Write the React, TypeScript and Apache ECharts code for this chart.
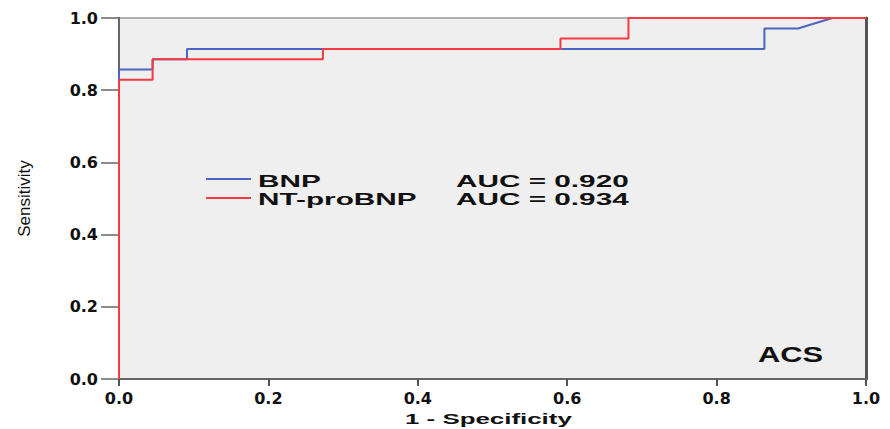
import React, { useEffect, useRef } from "react";
import * as echarts from "echarts";

// ROC coordinates (1 - specificity, sensitivity)
const bnpFpr = [0, 0, 0.045, 0.045, 0.091, 0.091, 0.864, 0.864, 0.909, 0.955, 1.0];
const bnpTpr = [0, 0.857, 0.857, 0.886, 0.886, 0.914, 0.914, 0.971, 0.971, 1.0, 1.0];
const ntFpr = [0, 0, 0.045, 0.045, 0.273, 0.273, 0.591, 0.591, 0.682, 0.682, 1.0];
const ntTpr = [0, 0.829, 0.829, 0.886, 0.886, 0.914, 0.914, 0.943, 0.943, 1.0, 1.0];

const seriesNames = ["BNP", "NT-proBNP"];
const aucLabels = ["AUC = 0.920", "AUC = 0.934"];
const panelLabel = "ACS";
const xTitle = "1 - Specificity";
const yTitle = "Sensitivity";

const BLUE = "#4a66c2";
const RED = "#f53a40";

export default function App() {
  const ref = useRef<HTMLDivElement>(null);

  useEffect(() => {
    if (!ref.current) return;
    const chart = echarts.init(ref.current, undefined, { renderer: "svg" });
    const pair = (xs: number[], ys: number[]) => xs.map((x, i) => [x, ys[i]]);
    const tickFont = {
      fontFamily: "DejaVu Sans",
      fontWeight: "bold" as const,
      fontSize: 16,
      color: "#111",
    };
    const legendText = (text: string, x: number, y: number) => ({
      type: "text",
      x,
      y,
      scaleX: 1.75,
      style: {
        text,
        fontFamily: "Liberation Sans",
        fontWeight: "bold",
        fontSize: 17,
        fill: "#111",
        verticalAlign: "middle",
        align: "left",
      },
    });
    chart.setOption({
      animation: false,
      backgroundColor: "#ffffff",
      grid: {
        left: 119,
        right: 24,
        top: 18,
        bottom: 50,
        show: true,
        backgroundColor: "#efefef",
        borderColor: "#999",
        borderWidth: 1.5,
      },
      xAxis: {
        type: "value",
        min: 0,
        max: 1,
        interval: 0.2,
        axisLine: { show: true, lineStyle: { color: "#666", width: 2 } },
        axisTick: { show: true, length: 7, lineStyle: { color: "#555", width: 2 } },
        axisLabel: {
          ...tickFont,
          margin: 11,
          formatter: (v: number) => v.toFixed(1),
        },
        splitLine: { show: false },
      },
      yAxis: [
        {
          type: "value",
          min: 0,
          max: 1,
          interval: 0.2,
          name: yTitle,
          nameLocation: "middle",
          nameRotate: 90,
          nameGap: 86,
          nameTextStyle: {
            fontFamily: "Liberation Sans",
            fontSize: 17,
            fontWeight: 500,
            color: "#111",
          },
          axisLine: { show: true, lineStyle: { color: "#666", width: 2 } },
          axisTick: { show: true, length: 18, lineStyle: { color: "#666", width: 1.5 } },
          axisLabel: {
            ...tickFont,
            margin: 21,
            formatter: (v: number) => v.toFixed(1),
          },
          splitLine: { show: false },
        },
        {
          type: "value",
          min: 0,
          max: 1,
          position: "right",
          axisLine: { show: true, lineStyle: { color: "#555", width: 3 } },
          axisTick: { show: false },
          axisLabel: { show: false },
          splitLine: { show: false },
        },
      ],
      series: [
        {
          name: seriesNames[0],
          type: "line",
          data: pair(bnpFpr, bnpTpr),
          showSymbol: false,
          symbol: "none",
          clip: false,
          lineStyle: { color: BLUE, width: 2 },
          itemStyle: { color: BLUE },
        },
        {
          name: seriesNames[1],
          type: "line",
          data: pair(ntFpr, ntTpr),
          showSymbol: false,
          symbol: "none",
          clip: false,
          lineStyle: { color: RED, width: 2 },
          itemStyle: { color: RED },
        },
      ],
      graphic: [
        {
          type: "line",
          shape: { x1: 206, y1: 179, x2: 251, y2: 179 },
          style: { stroke: BLUE, lineWidth: 2 },
        },
        {
          type: "line",
          shape: { x1: 206, y1: 198, x2: 251, y2: 198 },
          style: { stroke: RED, lineWidth: 2 },
        },
        legendText(seriesNames[0], 258, 181),
        legendText(seriesNames[1], 258, 199),
        legendText(aucLabels[0], 456, 181),
        legendText(aucLabels[1], 456, 199),
        {
          type: "text",
          x: 758,
          y: 355,
          scaleX: 1.4,
          style: {
            text: panelLabel,
            fontFamily: "Liberation Sans",
            fontWeight: "bold",
            fontSize: 22,
            fill: "#111",
            verticalAlign: "middle",
            align: "left",
          },
        },
        {
          type: "text",
          x: 405,
          y: 419,
          scaleX: 1.85,
          style: {
            text: xTitle,
            fontFamily: "Liberation Sans",
            fontWeight: "bold",
            fontSize: 14,
            fill: "#111",
            verticalAlign: "middle",
            align: "left",
          },
        },
      ],
    });
    return () => chart.dispose();
  }, []);

  return (
    <div
      ref={ref}
      style={{ position: "absolute", left: 0, top: 0, width: 890, height: 429 }}
    />
  );
}
